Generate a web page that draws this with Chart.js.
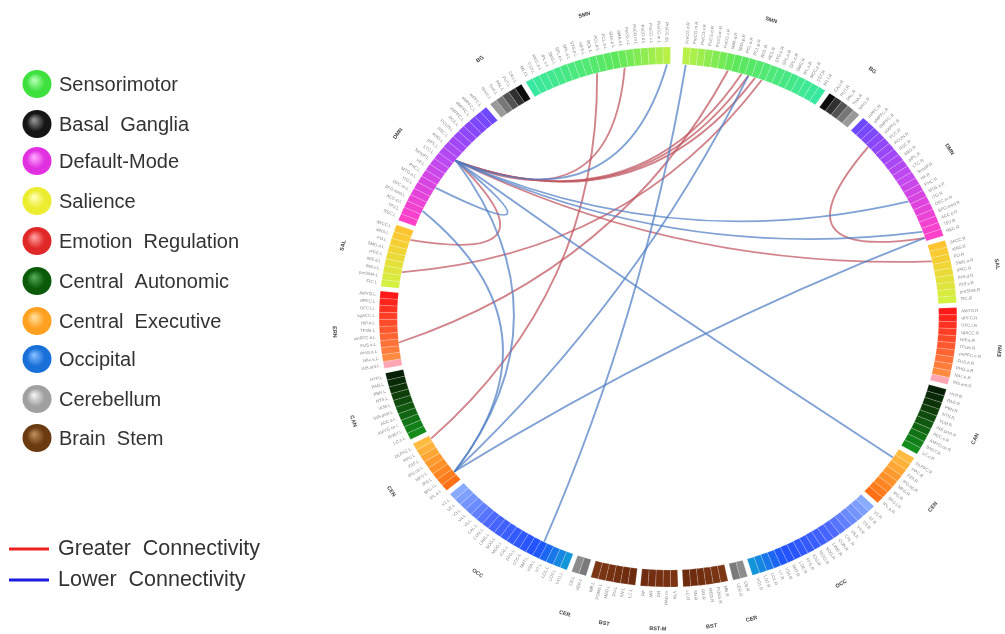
<!DOCTYPE html>
<html><head><meta charset="utf-8">
<script src="https://cdn.jsdelivr.net/npm/chart.js@4.4.0/dist/chart.umd.min.js"></script>
<style>html,body{margin:0;padding:0;background:#fff;} #wrap{position:relative;width:1005px;height:634px;}</style>
</head><body><div id="wrap"><canvas id="c"></canvas></div>
<script>
// ---------------- DATA ----------------
const legendNames = ['Sensorimotor','Basal  Ganglia','Default-Mode','Salience','Emotion  Regulation','Central  Autonomic','Central  Executive','Occipital','Cerebellum','Brain  Stem'];
const linkLegendNames = ['Greater  Connectivity','Lower  Connectivity'];

const segmentIds    = ['SMN-R','BG-R','DMN-R','SAL-R','ERN-R','CAN-R','CEN-R','OCC-R','CER-R','BST-R','BST-M','BST-L','CER-L','OCC-L','CEN-L','CAN-L','ERN-L','SAL-L','DMN-L','BG-L','SMN-L'];
const segmentNet    = ['SMN','BG','DMN','SAL','ERN','CAN','CEN','OCC','CER','BST','BSTM','BST','CER','OCC','CEN','CAN','ERN','SAL','DMN','BG','SMN'];
const segmentSide   = ['R','R','R','R','R','R','R','R','R','R','M','L','L','L','L','L','L','L','L','L','L'];
const segmentLabels = ['SMN','BG','DMN','SAL','ERN','CAN','CEN','OCC','CER','BST','BST-M','BST','CER','OCC','CEN','CAN','ERN','SAL','DMN','BG','SMN'];

const smnRegions  = ['PreCG.d','PreCG.m','PreCG.v','PoCG.d','PoCG.m','PoCG.v','SMA.a','SMA.p','PCL.a','PCL.p','ROL','HES','STG.p','SPL.a','SPL.p','SMG','IPL.s','MCC.p','CST','M1.f'];
const bgRegions   = ['CAU','PUT','PAL','THA','NAcc'];
const dmnRegions  = ['mPFC','aMPFC','dMPFC','vMPFC','PCC','PCUN','RSC','ANG','pIPL','LTC','TempP','HF','PHC','MTG.a','ITG','OFC.m','SFG.med','ACC.p','TPJ','REC'];
const salRegions  = ['dACC','aINS','FO','SMG.a','rPFC','INS.d','INS.v','preSMA','FIC'];
const ernRegions  = ['AMYG','vlPFC','OFC.l','sgACC','HIP.a','TPole','vmPFC.e','FUS.a','PHG.a','NAc.e','INS.ant'];
const canRegions  = ['HYP','PAG','PBN','NTS','VLM','INS.post','ACC.s','AMYG.ce','BNST','LC.c'];
const cenRegions  = ['DLPFC','PPC','FEF','IFG.op','MFG','IPS','SFG.l','IPL.a'];
const occRegions  = ['V1','V2','V3','V4','V5','CAL','CUN','LING','SOG','MOG','IOG','FFG','LOC','hMT','V3A','V7','LO1','LO2','VO1'];
const cerRegions  = ['CB','VER'];
const bstRegions  = ['MB','PONS','MED','RN','SN','LC'];
const bstmRegions = ['VTA','PAG.m','DR','MR','RF'];

// links: [segment, cell (clockwise), segment, cell (clockwise)]
const greaterLinks = [
  ['DMN-L',11,'SAL-L',7],
  ['DMN-L',11,'SMN-L',13],
  ['DMN-L',11,'SMN-R',8],
  ['DMN-L',11,'SMN-R',9],
  ['DMN-L',11,'SMN-R',10],
  ['DMN-L',11,'SAL-R',2],
  ['SAL-L',2,'SMN-R',11],
  ['ERN-L',3,'SMN-R',6],
  ['CEN-L',7,'SMN-L',9],
  ['DMN-R',3,'DMN-R',19]
];
const lowerLinks = [
  ['DMN-L',11,'CEN-R',1],
  ['DMN-L',11,'DMN-R',13],
  ['DMN-L',11,'DMN-R',18],
  ['DMN-L',11,'DMN-L',6],
  ['DMN-L',2,'CEN-L',1],
  ['DMN-L',11,'CEN-L',1],
  ['SMN-R',9,'CEN-L',1],
  ['DMN-R',19,'CEN-L',1],
  ['SMN-R',0,'OCC-L',4],
  ['SMN-L',19,'DMN-L',11]
];

// ---------------- STYLE ----------------
const regionsByNet = {SMN:smnRegions,BG:bgRegions,DMN:dmnRegions,SAL:salRegions,ERN:ernRegions,CAN:canRegions,CEN:cenRegions,OCC:occRegions,CER:cerRegions,BST:bstRegions,BSTM:bstmRegions};
const stopsByNet = {
  SMN:[[0,'#b8f048'],[0.35,'#5ee85a'],[1,'#38e8a0']],
  BG:[[0,'#0c0c0c'],[1,'#9a9a9a']],
  DMN:[[0,'#6e48ff'],[0.5,'#c048f0'],[1,'#ff40c8']],
  SAL:[[0,'#ffc430'],[1,'#d4f040']],
  ERN:[[0,'#ff1818'],[0.9,'#ff8a40'],[0.95,'#ffa6b4'],[1,'#ffa6b4']],
  CAN:[[0,'#062006'],[0.3,'#0e3a08'],[1,'#138c1c']],
  CEN:[[0,'#ffbc40'],[1,'#ff7016']],
  OCC:[[0,'#88aaff'],[0.35,'#4a66ff'],[0.75,'#2050ff'],[1,'#1296d8']],
  CER:[[0,'#8c8c8c'],[1,'#7a7a7a']],
  BST:[[0,'#7c3614'],[1,'#6c2a0e']],
  BSTM:[[0,'#7a3414'],[1,'#702c10']]
};
const legendSphere = [['#3ee03e','#b0ffb0'],['#151515','#909090'],['#e030e0','#ffa0ff'],['#ecec30','#ffffb0'],['#e02828','#ff9a9a'],['#0a5a0a','#50a850'],['#ffa020','#ffdc98'],['#1870d8','#80baff'],['#a0a0a0','#eeeeee'],['#6a3a10','#b88858']];
const SX = 1.07;        // horizontal stretch of the ring
const GAP = 2/3, TOP_GAP = 5/3, K = 0.45;
const FONT = '"Liberation Sans", Arial, sans-serif';

function hex(c){return [parseInt(c.slice(1,3),16),parseInt(c.slice(3,5),16),parseInt(c.slice(5,7),16)];}
function colorAt(stops,t){
  for(let i=0;i<stops.length-1;i++){
    const [p0,c0]=stops[i],[p1,c1]=stops[i+1];
    if(t<=p1+1e-9){const u=p1>p0?(t-p0)/(p1-p0):0;const a=hex(c0),b=hex(c1);
      return 'rgb('+a.map((v,j)=>Math.round(v+(b[j]-v)*Math.max(0,Math.min(1,u)))).join(',')+')';}
  }
  return stops[stops.length-1][1];
}

const cellLabels=[],cellValues=[],cellColors=[],cellBW=[],cellSeg=[];
const segFirst={};
segmentIds.forEach((id,s)=>{
  const net=segmentNet[s],side=segmentSide[s];
  const regs=regionsByNet[net].map(r=>side==='M'?r:r+'.'+side);
  const n=regs.length;
  const order=[...Array(n).keys()]; if(side==='L') order.reverse();
  segFirst[id]=cellValues.length;
  order.forEach(k=>{cellLabels.push(regs[k]);cellValues.push(1);cellColors.push(colorAt(stopsByNet[net],n>1?k/(n-1):0));cellBW.push(0.7);cellSeg.push(s);});
  cellLabels.push('');cellValues.push(s===segmentIds.length-1?TOP_GAP:GAP);cellColors.push('rgba(0,0,0,0)');cellBW.push(0);cellSeg.push(-1);
});

function drawLinks(chart,links,color){
  const meta=chart.getDatasetMeta(0),ctx=chart.ctx;
  ctx.save();ctx.strokeStyle=color;ctx.lineWidth=1.8;ctx.lineCap='round';
  links.forEach(([sa,ia,sb,ib])=>{
    const A=meta.data[segFirst[sa]+ia],B=meta.data[segFirst[sb]+ib];
    const cx=A.x,cy=A.y,r=A.innerRadius-1;
    const aa=(A.startAngle+A.endAngle)/2,ab=(B.startAngle+B.endAngle)/2;
    const p0=[cx+r*Math.cos(aa),cy+r*Math.sin(aa)],p2=[cx+r*Math.cos(ab),cy+r*Math.sin(ab)];
    const mx=(p0[0]+p2[0])/2,my=(p0[1]+p2[1])/2;
    ctx.beginPath();ctx.moveTo(p0[0],p0[1]);
    ctx.quadraticCurveTo(cx+K*(mx-cx),cy+K*(my-cy),p2[0],p2[1]);ctx.stroke();
  });
  ctx.restore();
}

const ringPlugin={
  id:'ring',
  beforeDatasetsDraw(chart){const a=chart.getDatasetMeta(0).data[0],ctx=chart.ctx;ctx.save();ctx.translate(a.x,a.y);ctx.scale(SX,1);ctx.translate(-a.x,-a.y);},
  afterDatasetsDraw(chart){
    drawLinks(chart,greaterLinks,'rgba(190,80,90,0.7)');
    drawLinks(chart,lowerLinks,'rgba(80,126,196,0.72)');
    chart.ctx.restore();
  },
  afterDraw(chart){
    const ctx=chart.ctx,meta=chart.getDatasetMeta(0);
    const a0=meta.data[0],cx=a0.x,cy=a0.y,R=a0.outerRadius;
    // region labels
    ctx.save();ctx.fillStyle='#8a8a8a';ctx.font='4.4px '+FONT;ctx.textBaseline='middle';
    meta.data.forEach((arc,i)=>{
      if(cellSeg[i]<0) return;
      const a=(arc.startAngle+arc.endAngle)/2,r=R+4;
      const x=cx+SX*r*Math.cos(a),y=cy+r*Math.sin(a);
      ctx.save();ctx.translate(x,y);
      if(Math.cos(a)>=0){ctx.rotate(a);ctx.textAlign='left';}else{ctx.rotate(a+Math.PI);ctx.textAlign='right';}
      ctx.fillText(cellLabels[i],0,0);ctx.restore();
    });
    ctx.restore();
    // network labels
    ctx.save();ctx.fillStyle='#444';ctx.font='bold 5.5px '+FONT;ctx.textAlign='center';ctx.textBaseline='middle';
    segmentIds.forEach((id,s)=>{
      const first=meta.data[segFirst[id]],n=regionsByNet[segmentNet[s]].length,last=meta.data[segFirst[id]+n-1];
      let a=(first.startAngle+last.endAngle)/2;
      const r=312,x=cx+SX*r*Math.cos(a),y=cy+r*Math.sin(a);
      let an=Math.atan2(Math.sin(a),Math.cos(a));
      ctx.save();ctx.translate(x,y);ctx.rotate(an>0&&an<Math.PI?an-Math.PI/2:an+Math.PI/2);
      ctx.fillText(segmentLabels[s],0,0);ctx.restore();
    });
    ctx.restore();
    // legend
    ctx.save();
    const ly=[84,124,161,201,241,281,321,359,399,438];
    legendNames.forEach((name,i)=>{
      const x=37,y=ly[i],r=14.5,[base,hl]=legendSphere[i];
      const g=ctx.createRadialGradient(x-3,y-4,1,x,y,r);
      g.addColorStop(0,hl);g.addColorStop(0.6,base);g.addColorStop(1,base);
      ctx.beginPath();ctx.ellipse(x,y,r,r-0.5,0,0,Math.PI*2);ctx.fillStyle=g;ctx.fill();
      ctx.fillStyle='#333';ctx.font='20px '+FONT;ctx.textAlign='left';ctx.textBaseline='middle';
      ctx.fillText(name,59,y+1);
    });
    const lcol=['#ee2020','#1c1ce0'],lyy=[549,580];
    linkLegendNames.forEach((name,i)=>{
      ctx.strokeStyle=lcol[i];ctx.lineWidth=3;ctx.beginPath();ctx.moveTo(9,lyy[i]);ctx.lineTo(49,lyy[i]);ctx.stroke();
      ctx.fillStyle='#333';ctx.font='21.5px '+FONT;ctx.textAlign='left';ctx.textBaseline='middle';
      ctx.fillText(name,58,lyy[i]);
    });
    ctx.restore();
  }
};

new Chart(document.getElementById('c'),{
  type:'doughnut',
  data:{labels:cellLabels,datasets:[{data:cellValues,backgroundColor:cellColors,borderColor:'rgba(255,255,255,0.25)',borderWidth:cellBW}]},
  options:{
    responsive:true,maintainAspectRatio:false,animation:false,events:[],
    rotation:3,circumference:360,radius:270,cutout:(253/270*100).toFixed(2)+'%',
    layout:{padding:{left:331,right:0,top:0,bottom:0}},
    plugins:{legend:{display:false},tooltip:{enabled:false}}
  },
  plugins:[ringPlugin]
});
</script></body></html>
